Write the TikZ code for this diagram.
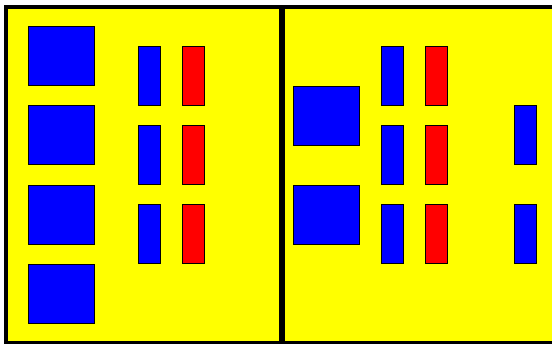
\documentclass[tikz,border=0pt]{standalone}
\usepackage{tikz}
\usepackage{xcolor}
\usetikzlibrary{positioning}
\definecolor{panelfill}{HTML}{FFFF00}
\definecolor{boxblue}{HTML}{0000FF}
\definecolor{boxred}{HTML}{FF0000}
\tikzset{
  panel/.style={draw=black, line width=4pt, fill=panelfill},
  %
  bigbox/.style={draw=black, line width=0.9pt, fill=boxblue,
                 minimum width=66pt, minimum height=59pt, inner sep=0pt},
  slimbox/.style={draw=black, line width=0.9pt, fill=boxblue,
                  minimum width=22pt, minimum height=59pt, inner sep=0pt},
  slimred/.style={slimbox, fill=boxred},
}
\begin{document}
\begin{tikzpicture}[x=1pt, y=-1pt]

  \clip (0,0) rectangle (552,343);
  \useasboundingbox (0,0) rectangle (552,343);

  % the two panels
  \draw[panel] (6,7) rectangle (281,343);
  \draw[panel] (283,7) rectangle (560,343);

  % left panel
  \foreach \i/\y in {1/56, 2/135.3, 3/214.7, 4/294}
    \node[bigbox] (lbig\i) at (61,\y) {};
  \foreach \i/\y in {1/76, 2/155, 3/234} {
    \node[slimbox] (lblue\i) at (149.5,\y) {};
    \node[slimred] (lred\i)  at (193.5,\y) {};
  }

  % right panel
  \node[bigbox] (rbig1) at (326,115.5) {};
  \node[bigbox] (rbig2) at (326,214.5) {};
  \foreach \i/\y in {1/76, 2/155, 3/234} {
    \node[slimbox] (rblue\i) at (392.5,\y) {};
    \node[slimred] (rred\i)  at (436.8,\y) {};
  }
  \node[slimbox] (rside1) at (525,135) {};
  \node[slimbox] (rside2) at (525,234) {};

\end{tikzpicture}
\end{document}
